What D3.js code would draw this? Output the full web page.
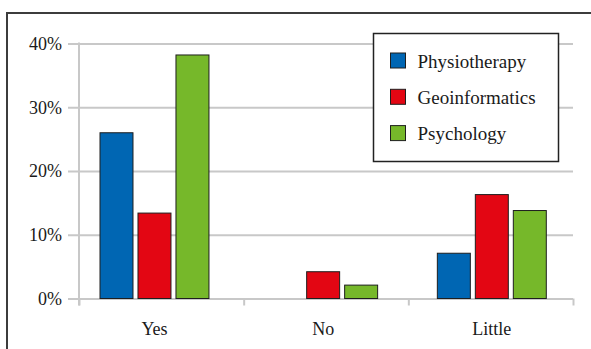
<!DOCTYPE html>
<html>
<head>
<meta charset="utf-8">
<script src="https://cdn.jsdelivr.net/npm/d3@7"></script>
<style>
    body { margin: 0; background: #fff; }
    svg text { font-family: "Liberation Serif", "DejaVu Serif", serif; fill: #1a1a1a; }
</style>
</head>
<body>
<div id="chart-container"></div>
<script>
// values in percent
const categories = ["Yes", "No", "Little"];
const series = ["Physiotherapy", "Geoinformatics", "Psychology"];
const physiotherapy = [26.0, null, 7.1];
const geoinformatics = [13.4, 4.2, 16.3];
const psychology = [38.2, 2.1, 13.8];
const yTicks = [0, 10, 20, 30, 40];
const colors = ["#0066b3", "#e30613", "#76b82a"];

const seriesValues = [physiotherapy, geoinformatics, psychology];

const width = 591;
const height = 349;
const margin = ({ top: 43.5, right: 18, bottom: 50.5, left: 79 });

const svg = d3.select("#chart-container")
    .append("svg")
    .attr("width", width)
    .attr("height", height);

// outer frame (only top and left edges are visible)
svg.append("path")
    .attr("d", `M7,${height} V13 H${width}`)
    .attr("fill", "none")
    .attr("stroke", "#3c3c3c")
    .attr("stroke-width", 2);

const y = d3.scaleLinear()
    .domain([0, 40])
    .range([height - margin.bottom, margin.top]);

// bar groups sit a bit off the category ticks, like in the original
const x0 = d3.scaleBand()
    .domain(categories)
    .range([margin.left + 21, width - margin.right - 26.7])
    .paddingInner(0.354);

const x1 = d3.scaleBand()
    .domain(series)
    .range([0, x0.bandwidth()])
    .paddingInner(0.1316);

// category boundaries for the tick marks
const xEdge = d3.scaleLinear()
    .domain([0, categories.length])
    .range([margin.left, width - margin.right]);

// gridlines + y axis
const yAxis = g => g
    .attr("transform", `translate(${margin.left},0)`)
    .call(d3.axisLeft(y)
        .tickValues(yTicks)
        .tickSize(11)
        .tickPadding(6)
        .tickFormat(d => d + "%"))
    .call(g => g.select(".domain").remove())
    .call(g => g.selectAll(".tick line")
        .attr("x2", width - margin.right - margin.left)
        .attr("x1", -11)
        .attr("stroke", "#c8c8c8")
        .attr("stroke-width", 2))
    .call(g => g.selectAll(".tick text")
        .attr("font-size", 18)
        .attr("font-family", null));

svg.append("g").call(yAxis);

// vertical axis line
svg.append("line")
    .attr("x1", margin.left).attr("x2", margin.left)
    .attr("y1", margin.top - 1).attr("y2", height - margin.bottom + 7)
    .attr("stroke", "#c8c8c8")
    .attr("stroke-width", 2);

// bottom tick marks at category edges
const xTicks = g => g
    .attr("transform", `translate(0,${height - margin.bottom})`)
    .call(d3.axisBottom(xEdge)
        .tickValues(d3.range(categories.length + 1))
        .tickSize(7)
        .tickFormat(""))
    .call(g => g.select(".domain").remove())
    .call(g => g.selectAll(".tick line")
        .attr("stroke", "#c8c8c8")
        .attr("stroke-width", 2));

svg.append("g").call(xTicks);

// category labels, centred under each bar group
const xLabels = g => g
    .attr("transform", `translate(0,${height - margin.bottom})`)
    .call(d3.axisBottom(x0).tickSize(0).tickPadding(24))
    .call(g => g.select(".domain").remove())
    .call(g => g.selectAll(".tick text")
        .attr("font-size", 18)
        .attr("font-family", null));

svg.append("g").call(xLabels);

// bars
const barData = [];
categories.forEach((c, i) => {
    series.forEach((s, j) => {
        const v = seriesValues[j][i];
        if (v != null) barData.push({ category: c, series: s, value: v, color: colors[j] });
    });
});

svg.append("g")
    .selectAll("rect")
    .data(barData)
    .join("rect")
    .attr("x", d => x0(d.category) + x1(d.series))
    .attr("y", d => y(d.value))
    .attr("width", x1.bandwidth())
    .attr("height", d => y(0) - y(d.value))
    .attr("fill", d => d.color)
    .attr("stroke", "#1e1e1e")
    .attr("stroke-width", 1);

// legend
const legend = svg.append("g")
    .attr("transform", "translate(373.5,33.5)");

legend.append("rect")
    .attr("width", 185)
    .attr("height", 128)
    .attr("fill", "#fff")
    .attr("stroke", "#222")
    .attr("stroke-width", 1.5);

const item = legend.selectAll(".item")
    .data(series)
    .join("g")
    .attr("class", "item")
    .attr("transform", (d, i) => `translate(17,${27 + i * 36.3})`);

item.append("rect")
    .attr("y", -7.5)
    .attr("width", 15)
    .attr("height", 15)
    .attr("fill", (d, i) => colors[i])
    .attr("stroke", "#1e1e1e")
    .attr("stroke-width", 1);

item.append("text")
    .attr("x", 27)
    .attr("y", 7)
    .attr("font-size", 19)
    .text(d => d);
</script>
</body>
</html>
